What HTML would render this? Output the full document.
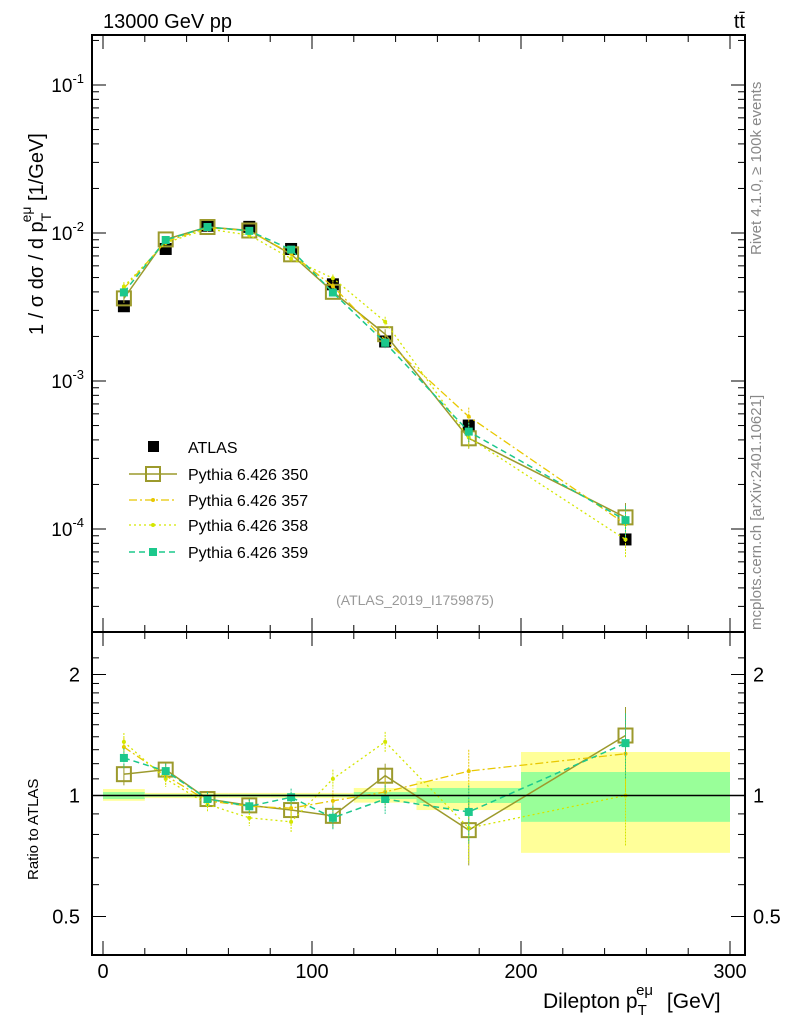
<!DOCTYPE html>
<html><head><meta charset="utf-8"><style>
body{margin:0;background:#fff}
svg{display:block;font-family:"Liberation Sans",sans-serif}
</style></head><body>
<svg id="c" width="786" height="1024" viewBox="0 0 786 1024" xmlns="http://www.w3.org/2000/svg">
<g id="bands"></g>
<g id="marks"></g>
<g id="axes"></g>
<text x="103" y="28" font-size="20">13000 GeV pp</text>
<text x="745" y="28" font-size="20" text-anchor="end">tt̄</text>
<text transform="translate(761,255) rotate(-90)" font-size="15" fill="#888">Rivet 4.1.0, ≥ 100k events</text>
<text transform="translate(761,630) rotate(-90)" font-size="15" fill="#888">mcplots.cern.ch [arXiv:2401.10621]</text>
<text x="415" y="605" font-size="14" fill="#999" text-anchor="middle">(ATLAS_2019_I1759875)</text>
<text transform="translate(43,335) rotate(-90)" font-size="20">1 / σ  dσ / d p<tspan dy="8" font-size="14">T</tspan><tspan dy="-20" dx="-8" font-size="14">eμ</tspan><tspan dy="12"> [1/GeV]</tspan></text>
<text transform="translate(38,880) rotate(-90)" font-size="15">Ratio to ATLAS</text>
<text x="543" y="1008" font-size="21">Dilepton p<tspan dy="7" font-size="15">T</tspan><tspan dy="-20" dx="-9" font-size="15">eμ</tspan><tspan dy="13" dx="8"> [GeV]</tspan></text>
<g id="legend"></g>
</svg>
<script>
const binLo=[0,20,40,60,80,100,120,150,200];
const binHi=[20,40,60,80,100,120,150,200,300];
const xc=[10,30,50,70,90,110,135,175,250];
const atlas=[3.2e-3,7.8e-3,1.12e-2,1.1e-2,7.8e-3,4.5e-3,1.85e-3,5.0e-4,8.5e-5];
const totLo=[0.97,0.985,0.985,0.985,0.985,0.985,0.96,0.92,0.72];
const totHi=[1.038,1.015,1.015,1.015,1.015,1.015,1.044,1.087,1.283];
const statLo=[0.98,0.993,0.993,0.993,0.993,0.993,0.98,0.958,0.86];
const statHi=[1.02,1.007,1.007,1.007,1.007,1.007,1.02,1.044,1.144];
const r350=[1.13,1.16,0.98,0.945,0.92,0.89,1.12,0.82,1.41];
const r357=[1.32,1.12,0.97,0.94,0.93,0.97,1.02,1.15,1.27];
const r358=[1.36,1.10,0.95,0.88,0.86,1.10,1.36,0.83,1.0];
const r359=[1.24,1.15,0.98,0.94,0.99,0.88,0.98,0.91,1.35];
const rerr=[0.07,0.05,0.04,0.04,0.05,0.06,0.08,0.15,0.25];
const xTicks=[0,100,200,300];
const yTicks=[-4,-3,-2,-1];
const rTicks=[0.5,1,2];

const NS="http://www.w3.org/2000/svg";
const X=v=>103+v*2.09;
const Y=v=>233-(Math.log10(v)+2)*148;
const R=v=>795.5-Math.log2(v)*121;
function mk(p,t,a){const e=document.createElementNS(NS,t);for(const k in a)e.setAttribute(k,a[k]);p.appendChild(e);return e;}
const B=document.getElementById('bands'),M=document.getElementById('marks'),A=document.getElementById('axes'),L=document.getElementById('legend');

for(let i=0;i<binLo.length;i++){
 const e=mk(B,'rect',{x:X(binLo[i]),width:X(binHi[i])-X(binLo[i]),y:R(totHi[i]),height:R(totLo[i])-R(totHi[i]),fill:'#ffff99'});
 
 
 const g=mk(B,'rect',{x:X(binLo[i]),width:X(binHi[i])-X(binLo[i]),y:R(statHi[i]),height:R(statLo[i])-R(statHi[i]),fill:'#99ff99'});
 
 
}
const one=mk(A,'line',{x1:92,x2:745,y1:R(1),y2:R(1),stroke:'#000','stroke-width':1.5});



const series=[
 {n:'350',r:r350,c:'#9c9a2c',d:'',m:'open',w:1.5},
 {n:'357',r:r357,c:'#e8c800',d:'8 3 2 3',m:'dot',w:1.3},
 {n:'358',r:r358,c:'#d4e600',d:'2 3',m:'dot',w:1.3},
 {n:'359',r:r359,c:'#1cc88c',d:'6 4',m:'fill',w:1.5}];
function marker(g,s,x,y){
 if(s.m==='open')mk(g,'rect',{x:x-7,y:y-7,width:14,height:14,fill:'none',stroke:s.c,'stroke-width':2});
 else if(s.m==='fill')mk(g,'rect',{x:x-4,y:y-4,width:8,height:8,fill:s.c});
 else mk(g,'circle',{cx:x,cy:y,r:2,fill:s.c});
}
atlas.forEach((v,i)=>{
 const e=mk(M,'rect',{x:X(xc[i])-6,y:Y(v)-6,width:12,height:12,fill:'#000'});
 
 
});
series.forEach(s=>{
 const g=mk(M,'g',{});
 
 
 const mp=xc.map((x,i)=>X(x)+','+Y(atlas[i]*s.r[i])).join(' ');
 mk(g,'polyline',{points:mp,fill:'none',stroke:s.c,'stroke-width':s.w,'stroke-dasharray':s.d});
 const rp=xc.map((x,i)=>X(x)+','+R(s.r[i])).join(' ');
 mk(g,'polyline',{points:rp,fill:'none',stroke:s.c,'stroke-width':s.w,'stroke-dasharray':s.d});
 xc.forEach((x,i)=>{
  const v=atlas[i]*s.r[i];
  mk(g,'line',{x1:X(x),x2:X(x),y1:Y(v*(1+rerr[i])),y2:Y(v*(1-rerr[i])),stroke:s.c,'stroke-width':1,'stroke-dasharray':s.d?'2 1':''});
  mk(g,'line',{x1:X(x),x2:X(x),y1:R(s.r[i]+rerr[i]),y2:R(s.r[i]-rerr[i]),stroke:s.c,'stroke-width':1,'stroke-dasharray':s.d?'2 1':''});
  marker(g,s,X(x),Y(v));
  marker(g,s,X(x),R(s.r[i]));
 });
});
[[92,35,653,597],[92,632,653,323]].forEach(f=>mk(A,'rect',{x:f[0],y:f[1],width:f[2],height:f[3],fill:'none',stroke:'#000','stroke-width':2}));
for(let v=0;v<=300;v+=20){
 const big=v%100===0,x=X(v);
 [[35,1],[632,-1],[632,1],[955,-1]].forEach(([y,d])=>mk(A,'line',{x1:x,x2:x,y1:y,y2:y+d*(big?14:7),stroke:'#000'}));
}
xTicks.forEach(v=>{const t=mk(A,'text',{x:X(v),y:978,'font-size':20,'text-anchor':'middle'});t.textContent=v;
 });
for(let e=-5;e<=-1;e++)for(let k=1;k<10;k++){
 const y=Y(k*Math.pow(10,e));if(y<36||y>631)continue;
 const l=k===1?14:7;
 mk(A,'line',{x1:92,x2:92+l,y1:y,y2:y,stroke:'#000'});
 mk(A,'line',{x1:745,x2:745-l,y1:y,y2:y,stroke:'#000'});
}
yTicks.forEach(e=>{const t=mk(A,'text',{x:84,y:Y(Math.pow(10,e))+7,'font-size':19,'text-anchor':'end'});
 t.innerHTML='10<tspan dy="-9" font-size="13">'+e+'</tspan>';
 });
[0.4,0.5,0.6,0.7,0.8,0.9,1,1.1,1.2,1.3,1.4,1.5,1.6,1.7,1.8,1.9,2,2.2].forEach(v=>{
 const y=R(v);if(y<633||y>954)return;const big=rTicks.includes(v),l=big?14:7;
 mk(A,'line',{x1:92,x2:92+l,y1:y,y2:y,stroke:'#000'});
 mk(A,'line',{x1:745,x2:745-l,y1:y,y2:y,stroke:'#000'});
});
rTicks.forEach(v=>{
 const t=mk(A,'text',{x:80,y:R(v)+7,'font-size':20,'text-anchor':'end'});t.textContent=v;
 
 const t2=mk(A,'text',{x:753,y:R(v)+7,'font-size':20});t2.textContent=v;
 
});
const ly=[447,474,500,525,552];
mk(L,'rect',{x:148,y:441,width:11,height:11,fill:'#000'});
const lt0=mk(L,'text',{x:188,y:ly[0]+6,'font-size':16});lt0.textContent='ATLAS';
series.forEach((s,i)=>{
 const y=ly[i+1];
 mk(L,'line',{x1:129,x2:177,y1:y,y2:y,stroke:s.c,'stroke-width':s.w,'stroke-dasharray':s.d});
 marker(L,s,153,y);
 const t=mk(L,'text',{x:188,y:y+6,'font-size':16});t.textContent='Pythia 6.426 '+s.n;
 
});
</script>
</body></html>
